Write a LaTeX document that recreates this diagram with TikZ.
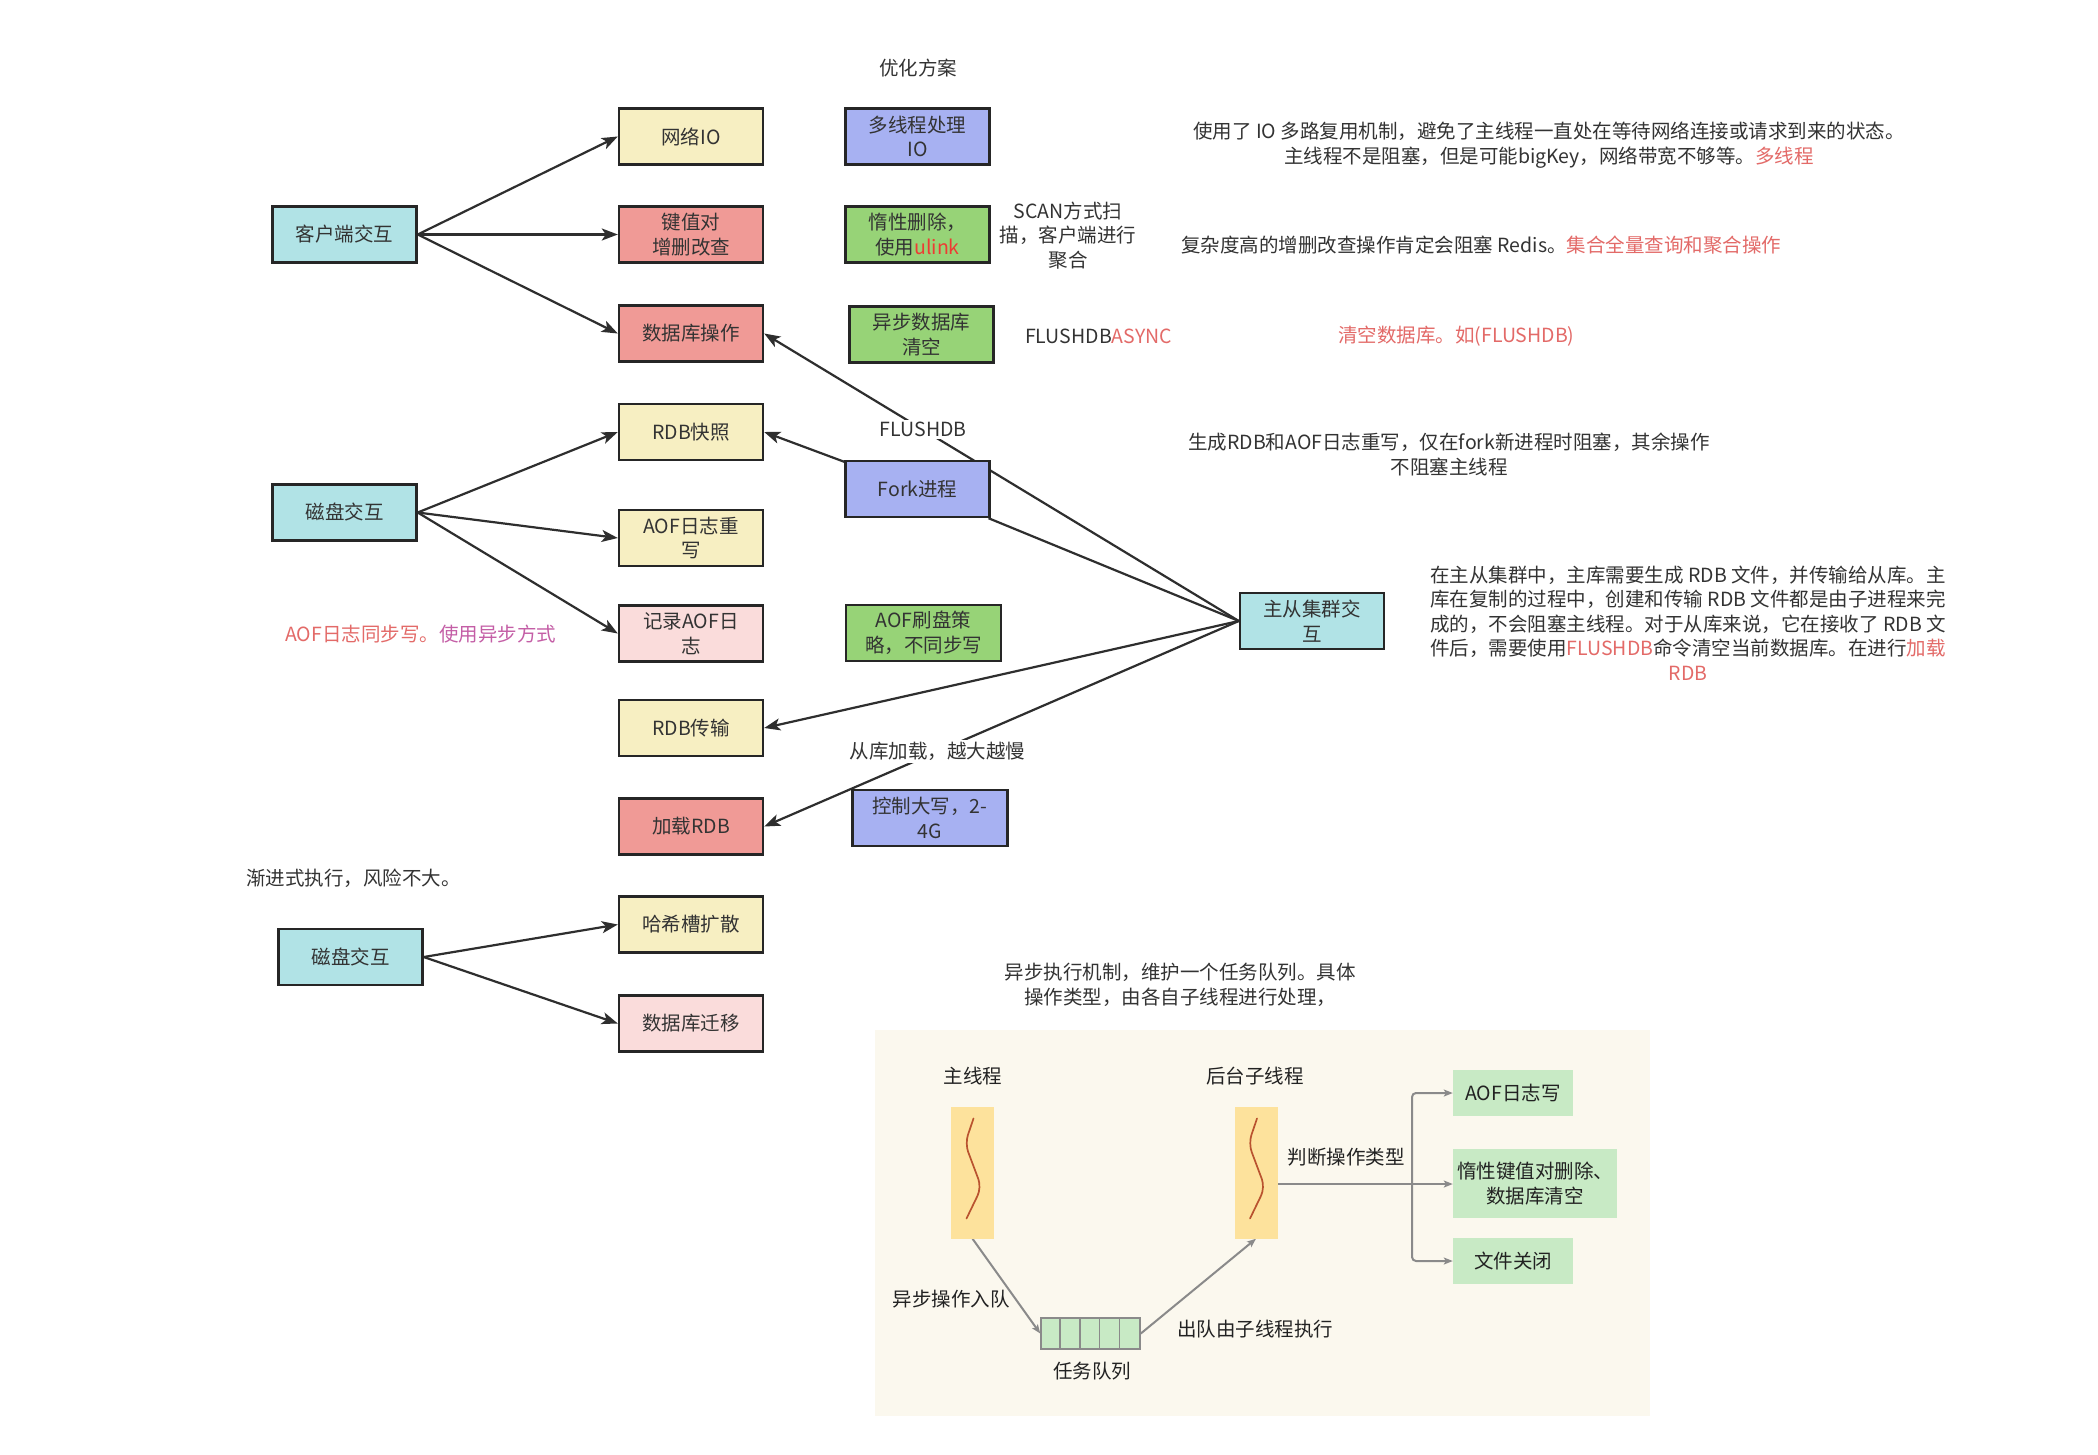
\documentclass[tikz,border=0pt]{standalone}
\usepackage{fontspec}
\setmainfont{Noto Sans CJK SC}
\usetikzlibrary{arrows.meta}
\pgfdeclarelayer{bg}
\pgfsetlayers{bg,main}
\definecolor{txt}{HTML}{333333}
\definecolor{bord}{HTML}{262626}
\definecolor{lin}{HTML}{2E2E2E}
\definecolor{cyanf}{HTML}{B1E3E6}
\definecolor{yelf}{HTML}{F7EFC2}
\definecolor{redf}{HTML}{F09A96}
\definecolor{pinkf}{HTML}{FADCDB}
\definecolor{greenf}{HTML}{97D377}
\definecolor{purpf}{HTML}{A7B1F2}
\definecolor{red1}{HTML}{E36A68}
\definecolor{ulinkc}{HTML}{EE3B33}
\definecolor{purp}{HTML}{C45EA6}
\definecolor{panel}{HTML}{FBF8EE}
\definecolor{barf}{HTML}{FDE29C}
\definecolor{squigc}{HTML}{B9532F}
\definecolor{pgreen}{HTML}{C8EAC5}
\definecolor{pline}{HTML}{8A8A8A}
\definecolor{ptxt}{HTML}{222222}
\begin{document}
\begin{tikzpicture}[x=1pt,y=-1pt,
  every node/.style={font=\fontsize{19.5}{24.5}\selectfont, text=txt},
  box/.style={draw=bord, line width=2.4pt, minimum width=144pt, minimum height=56pt, inner sep=1pt, align=center},
  cyanbox/.style={box, fill=cyanf},
  yelbox/.style={box, fill=yelf},
  redbox/.style={box, fill=redf},
  pinkbox/.style={box, fill=pinkf},
  greenbox/.style={box, fill=greenf},
  purpbox/.style={box, fill=purpf},
  note/.style={align=center, inner sep=1pt},
  lbl/.style={fill=white, inner sep=2pt},
  ln/.style={draw=lin, line width=2.2pt},
  arr/.style={ln, -{Stealth[length=16pt,width=12pt,inset=4pt]}},
  parr/.style={draw=pline, line width=2pt, -{Stealth[length=9pt,width=7pt,inset=2pt]}},
  pbox/.style={fill=pgreen, inner sep=1pt, align=center, text=ptxt},
  plabel/.style={text=ptxt, inner sep=1pt, align=center},
  bar/.style={fill=barf, minimum width=43pt, minimum height=132pt, inner sep=0pt},
  squig/.style={draw=squigc, line width=1.7pt, line cap=round, line join=round, rounded corners=9pt}
]
\useasboundingbox (0,0) rectangle (2098,1455);
\begin{pgfonlayer}{bg}
  \fill[white] (0,0) rectangle (2098,1455);
  \fill[panel] (875,1030) rectangle (1650,1416);
\end{pgfonlayer}

% column 1
\node[cyanbox] (client) at (344.5,234.5) {客户端交互};
\node[cyanbox] (disk1) at (344.5,512.5) {磁盘交互};
\node[cyanbox] (disk2) at (350.5,957) {磁盘交互};

% column 2
\node[yelbox] (netio) at (691,136.5) {网络IO};
\node[redbox] (kv) at (691,234.5) {键值对\\增删改查};
\node[redbox] (dbop) at (691,333.5) {数据库操作};
\node[yelbox] (rdb) at (691,432) {RDB快照};
\node[yelbox] (aofrw) at (691,538) {AOF日志重\\写};
\node[pinkbox] (aoflog) at (691,633.5) {记录AOF日\\志};
\node[yelbox] (rdbtx) at (691,728) {RDB传输};
\node[redbox] (loadrdb) at (691,826.5) {加载RDB};
\node[yelbox] (hash) at (691,924.5) {哈希槽扩散};
\node[pinkbox] (migrate) at (691,1023.5) {数据库迁移};

% column 3
\node[purpbox] (mt) at (917.5,136.5) {多线程处理\\IO};
\node[greenbox] (lazy) at (917.5,234.5) {惰性删除，\\使用\textcolor{ulinkc}{ulink}};
\node[greenbox] (asyncflush) at (921.5,334.5) {异步数据库\\清空};
\node[purpbox] (fork) at (917.5,489) {Fork进程};
\node[greenbox, minimum width=155pt] (aofflush) at (923.5,633) {AOF刷盘策\\略，不同步写};
\node[purpbox, minimum width=155pt] (ctrl) at (930,818) {控制大写，2-\\4G};
\node[cyanbox] (zhucong) at (1312,621) {主从集群交\\互};

% notes
\node[note] (youhua) at (918,68) {优化方案};
\node[note] (n1) at (1549,145) {使用了 IO 多路复用机制，避免了主线程一直处在等待网络连接或请求到来的状态。\\主线程不是阻塞，但是可能bigKey，网络带宽不够等。\textcolor{red1}{多线程}};
\node[note] (n2) at (1068,235.5) {SCAN方式扫\\描，客户端进行\\聚合};
\node[note, anchor=west] (n3) at (1180,245) {复杂度高的增删改查操作肯定会阻塞 Redis。\textcolor{red1}{集合全量查询和聚合操作}};
\node[note, anchor=west] (n4) at (1024,336) {FLUSHDB\textcolor{red1}{ASYNC}};
\node[note, anchor=west] (n5) at (1337,336) {\textcolor{red1}{清空数据库。如(FLUSHDB)}};
\node[note] (n6) at (1449,454.5) {生成RDB和AOF日志重写，仅在fork新进程时阻塞，其余操作\\不阻塞主线程};
\node[note] (n7) at (1688,623) {在主从集群中，主库需要生成 RDB 文件，并传输给从库。主\\库在复制的过程中，创建和传输 RDB 文件都是由子进程来完\\成的，不会阻塞主线程。对于从库来说，它在接收了 RDB 文\\件后，需要使用\textcolor{red1}{FLUSHDB}命令清空当前数据库。在进行\textcolor{red1}{加载}\\\textcolor{red1}{RDB}};
\node[note, anchor=west] (n8) at (284,634) {\textcolor{red1}{AOF日志同步写。}\textcolor{purp}{使用异步方式}};
\node[note, anchor=west] (n9) at (245,878) {渐进式执行，风险不大。};
\node[note] (n10) at (1180,985) {异步执行机制，维护一个任务队列。具体\\操作类型，由各自子线程进行处理，};

% bottom panel
\node[plabel] (mainlbl) at (973,1076) {主线程};
\node[plabel] (bglbl) at (1255,1076) {后台子线程};
\node[bar] (mainbar) at (972.5,1172.5) {};
\node[bar] (bgbar) at (1256,1172.5) {};
\foreach \b in {mainbar,bgbar}{
  \begin{scope}[shift={(\b.center)}]
    \draw[squig] (1,-54) -- (-7.5,-29) -- (9,15) -- (-6,46);
  \end{scope}
}
\node[plabel] (judge) at (1346,1157) {判断操作类型};
\node[draw=pline, line width=1.6pt, fill=pgreen, minimum width=99pt, minimum height=31pt, inner sep=0pt] (queue) at (1090.5,1333.5) {};
\foreach \i in {1,...,4}{
  \draw[draw=pline, line width=1.4pt] ([xshift=\i*19.8pt]queue.north west) -- ([xshift=\i*19.8pt]queue.south west);
}
\node[plabel] (qlbl) at (1092,1371) {任务队列};
\node[plabel] (inq) at (951,1299) {异步操作入队};
\node[plabel] (outq) at (1255,1329) {出队由子线程执行};
\node[pbox, minimum width=120pt, minimum height=46pt] (aofw) at (1513,1093) {AOF日志写};
\node[pbox, minimum width=164pt, minimum height=69pt] (lazy2) at (1535,1183.5) {惰性键值对删除、\\数据库清空};
\node[pbox, minimum width=120pt, minimum height=46pt] (close) at (1513,1261) {文件关闭};
\coordinate (br) at (1412,1184);

\begin{pgfonlayer}{bg}
  \draw[arr] (client.east) -- (netio.west);
  \draw[arr] (client.east) -- (kv.west);
  \draw[arr] (client.east) -- (dbop.west);
  \draw[arr] (disk1.east) -- (rdb.west);
  \draw[arr] (disk1.east) -- (aofrw.west);
  \draw[arr] (disk1.east) -- (aoflog.west);
  \draw[arr] (disk2.east) -- (hash.west);
  \draw[arr] (disk2.east) -- (migrate.west);
  \draw[arr] (fork) -- (rdb.east);
  \draw[arr] (zhucong.west) -- node[lbl, pos=0.665] (flbl) {FLUSHDB} (dbop.east);
  \draw[ln] (zhucong.west) -- (fork);
  \draw[arr] (zhucong.west) -- (rdbtx.east);
  \draw[arr] (zhucong.west) -- node[lbl, pos=0.635] (slbl) {从库加载，越大越慢} (loadrdb.east);
  % panel
  \draw[parr] (mainbar.south) -- (queue.west);
  \draw[parr] (queue.east) -- (bgbar.south);
  \draw[parr] (bgbar.east |- br) -- (lazy2.west |- br);
  \draw[parr, rounded corners=4pt] (br) |- (aofw.west);
  \draw[parr, rounded corners=4pt] (br) |- (close.west);
\end{pgfonlayer}
\end{tikzpicture}
\end{document}
